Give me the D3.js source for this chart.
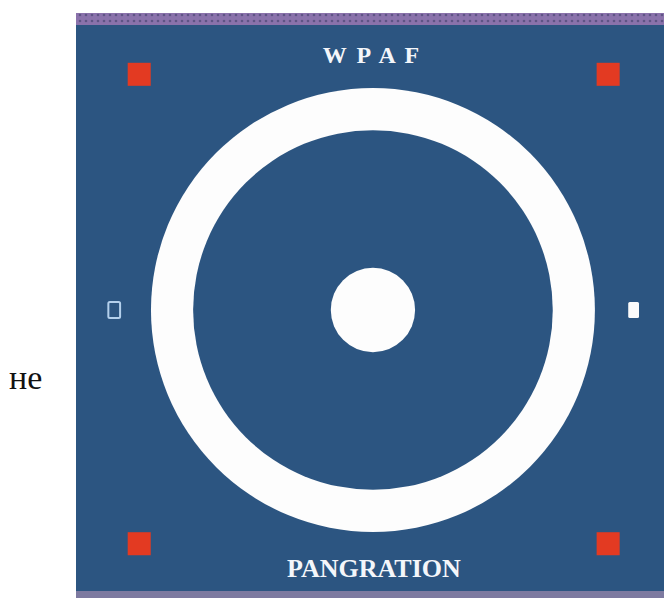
<!DOCTYPE html>
<html>
<head>
<meta charset="utf-8">
<script src="https://cdn.jsdelivr.net/npm/d3@7"></script>
<style>
  body { margin: 0; background: #fff; }
  svg { display: block; }
</style>
</head>
<body>
<div class="wrapper"></div>
<script>
const WIDTH = 664
const HEIGHT = 598
const mat = {left: 76, right: 664, top: 13, bottom: 598}

// mat layout in metres, centre of the mat = 0,0
var rings = [
  {name: 'outer', r: 4.53, fill: '#fdfdfd'},
  {name: 'inner', r: 3.67, fill: '#2c5581'},
  {name: 'centre', r: 0.86, fill: '#fdfdfd'}
]
var ringCentre = [0.06, 0]
var corners = [[-4.71, -4.81], [4.86, -4.81], [-4.71, 4.77], [4.86, 4.77]]
var cornerSize = 0.47
var sideMarks = [
  {x: -5.22, y: 0, w: 0.24, h: 0.33, fill: 'none', stroke: '#b4d0ec'},
  {x: 5.38, y: 0, w: 0.22, h: 0.33, fill: '#fbfbfb', stroke: 'none'}
]
var titles = [
  {text: 'W P A F', x: 0.02, y: -5.04, size: 24, spacing: 2},
  {text: 'PANGRATION', x: 0.08, y: 5.45, size: 26, spacing: 0}
]
var sideLabel = 'не'

var x = d3.scaleLinear().domain([-6, 6]).range([mat.left, mat.right])
var y = d3.scaleLinear().domain([-6, 6]).range([16, 604])
var len = d => x(d) - x(0)

var svg = d3.select(".wrapper")
  .append("svg")
  .attr("width", WIDTH)
  .attr("height", HEIGHT)

var pat = svg.append("defs").append("pattern")
  .attr("id", "edge")
  .attr("width", 6).attr("height", 6)
  .attr("patternUnits", "userSpaceOnUse")
pat.append("rect").attr("width", 6).attr("height", 6).attr("fill", "#8a72ab")
pat.append("circle").attr("cx", 2).attr("cy", 3).attr("r", 1.3).attr("fill", "#5f5485")

// mat background and edge stripes
svg.append("rect")
  .attr("x", mat.left).attr("y", mat.top)
  .attr("width", mat.right - mat.left).attr("height", mat.bottom - mat.top)
  .attr("fill", "#2c5581")

svg.append("rect")
  .attr("x", mat.left).attr("y", mat.top)
  .attr("width", mat.right - mat.left).attr("height", 12)
  .attr("fill", "url(#edge)")

svg.append("rect")
  .attr("x", mat.left).attr("y", 591)
  .attr("width", mat.right - mat.left).attr("height", 7)
  .attr("fill", "#7d7aa0")

svg.append("g")
  .selectAll("circle")
  .data(rings)
  .join("circle")
  .attr("cx", x(ringCentre[0]))
  .attr("cy", y(ringCentre[1]))
  .attr("r", d => len(d.r))
  .attr("fill", d => d.fill)

svg.append("g")
  .selectAll("rect")
  .data(corners)
  .join("rect")
  .attr("x", d => x(d[0]) - len(cornerSize) / 2)
  .attr("y", d => y(d[1]) - len(cornerSize) / 2)
  .attr("width", len(cornerSize))
  .attr("height", len(cornerSize))
  .attr("fill", "#e33a22")

svg.append("g")
  .selectAll("rect")
  .data(sideMarks)
  .join("rect")
  .attr("x", d => x(d.x) - len(d.w) / 2)
  .attr("y", d => y(d.y) - len(d.h) / 2)
  .attr("width", d => len(d.w))
  .attr("height", d => len(d.h))
  .attr("rx", 1.5)
  .attr("fill", d => d.fill)
  .attr("stroke", d => d.stroke)
  .attr("stroke-width", 2)

svg.append("g")
  .selectAll("text")
  .data(titles)
  .join("text")
  .attr("x", d => x(d.x) + d.spacing / 2)
  .attr("y", d => y(d.y))
  .attr("text-anchor", "middle")
  .attr("fill", "#f4f6fa")
  .style("font-family", "'Liberation Serif', serif")
  .style("font-weight", "bold")
  .style("font-size", d => d.size + "px")
  .style("letter-spacing", d => d.spacing + "px")
  .text(d => d.text)

svg.append("text")
  .attr("x", 9)
  .attr("y", 389)
  .style("font-family", "'Liberation Serif', serif")
  .style("font-size", "34px")
  .attr("fill", "#111")
  .text(sideLabel)
</script>
</body>
</html>
